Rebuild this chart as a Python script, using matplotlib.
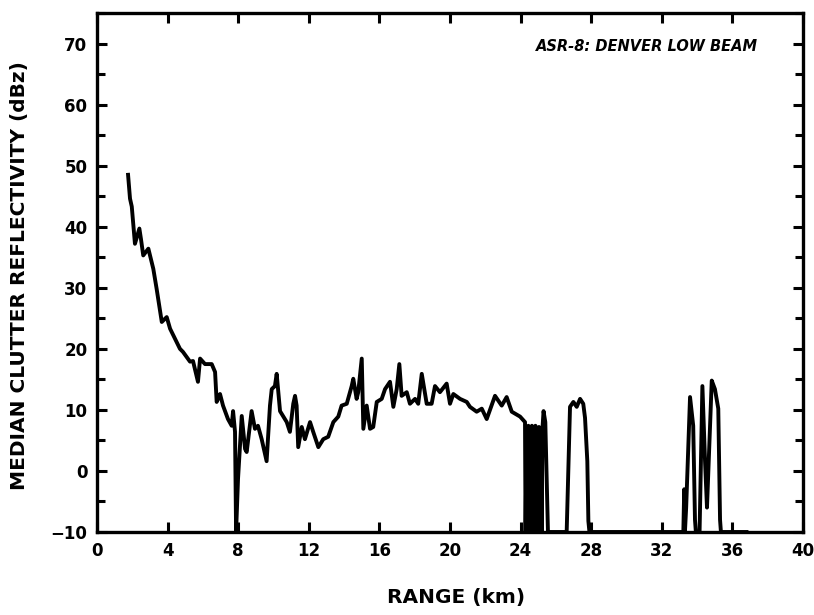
import matplotlib
matplotlib.use("Agg")
import matplotlib.pyplot as plt
from matplotlib.ticker import MultipleLocator

# median clutter reflectivity (km, dBz)
range_km = [
	1.76, 1.87, 1.97, 2.04, 2.15, 2.40, 2.49, 2.62, 2.91, 3.19,
	3.38, 3.67, 3.95, 4.14, 4.70, 4.87, 5.27, 5.44, 5.72, 5.84,
	6.12, 6.50, 6.69, 6.78, 6.97, 7.14, 7.42, 7.63, 7.71, 7.82,
	7.88, 7.99, 8.20, 8.39, 8.48, 8.76, 8.95, 9.12, 9.33, 9.61,
	9.80, 9.90, 10.08, 10.18, 10.37, 10.75, 10.93, 11.12, 11.22, 11.31,
	11.40, 11.60, 11.78, 12.07, 12.25, 12.54, 12.82, 13.10, 13.39, 13.67,
	13.86, 14.15, 14.43, 14.52, 14.71, 14.80, 15.00, 15.09, 15.28, 15.47,
	15.65, 15.85, 16.13, 16.32, 16.60, 16.79, 16.98, 17.13, 17.26, 17.55,
	17.73, 18.02, 18.20, 18.40, 18.68, 18.96, 19.15, 19.43, 19.81, 20.00,
	20.19, 20.57, 20.95, 21.13, 21.51, 21.80, 22.08, 22.55, 22.93, 23.21,
	23.50, 23.97, 24.25,
	# dense spikes 24-25.6 km
	24.28, 24.34, 24.39, 24.44, 24.49, 24.54, 24.59, 24.64, 24.69, 24.74,
	24.79, 24.84, 24.89, 24.94, 24.99, 25.04, 25.09, 25.14, 25.19, 25.24,
	25.30, 25.40, 25.55,
	# bump near 27 km
	26.61, 26.80, 26.99, 27.18, 27.37, 27.55, 27.65, 27.78, 27.84, 27.90,
	# spikes near 34 km
	33.22, 33.27, 33.31, 33.38, 33.60, 33.78, 33.88, 33.93, 34.14, 34.30,
	34.45, 34.56, 34.83, 35.01, 35.20, 35.30, 35.35, 36.80,
]
refl_dbz = [
	48.5, 44.6, 43.3, 41.0, 37.2, 39.7, 38.0, 35.3, 36.4, 33.1,
	29.8, 24.4, 25.2, 23.3, 20.0, 19.5, 17.9, 18.0, 14.6, 18.4,
	17.5, 17.5, 16.2, 11.3, 12.6, 10.7, 8.5, 7.4, 9.8, 6.4,
	-10.0, -1.3, 9.0, 3.6, 3.1, 9.8, 6.9, 7.4, 5.2, 1.6,
	10.7, 13.4, 13.9, 15.9, 9.8, 8.0, 6.4, 11.0, 12.3, 10.7,
	3.9, 7.2, 5.2, 8.0, 6.4, 3.9, 5.2, 5.6, 8.0, 8.9,
	10.7, 11.0, 13.9, 15.1, 11.8, 12.9, 18.4, 6.9, 10.7, 6.9,
	7.2, 11.3, 11.8, 13.4, 14.6, 10.5, 13.4, 17.5, 12.3, 12.9,
	11.0, 11.8, 11.0, 15.9, 11.0, 11.0, 13.9, 12.9, 14.3, 11.0,
	12.6, 11.8, 11.3, 10.5, 9.7, 10.2, 8.5, 12.3, 10.7, 12.1,
	9.7, 8.9, 8.0,
	-10.0, 6.5, -10.0, 7.4, -10.0, 6.0, -10.0, 7.4, -10.0, 5.5,
	-10.0, 7.4, -10.0, 6.8, -10.0, 7.2, -10.0, 6.0, -10.0, 7.0,
	9.8, 8.0, -10.0,
	-10.0, 10.5, 11.3, 10.5, 11.8, 11.0, 8.7, 1.6, -8.2, -10.0,
	-10.0, -3.0, -10.0, -6.0, 12.1, 7.4, -8.0, -10.0, -10.0, 13.9,
	1.6, -6.0, 14.8, 13.4, 10.2, -8.0, -10.0, -10.0,
]

x_ticks = list(range(0, 41, 4))
y_ticks = list(range(-10, 71, 10))

plt.rcParams['font.family'] = ['DejaVu Sans']
plt.rcParams['font.weight'] = 'bold'

fig = plt.figure(figsize=(8.14, 6.15), dpi=100)
ax = fig.add_axes([97 / 814, 1 - 532 / 615, (803 - 97) / 814, (532 - 13) / 615])

ax.plot(range_km, refl_dbz, color='black', lw=2.8, solid_joinstyle='round')

ax.set_xlim(0, 40)
ax.set_ylim(-10, 75)
ax.set_xticks(x_ticks)
ax.set_yticks(y_ticks)
ax.yaxis.set_minor_locator(MultipleLocator(5))
ax.tick_params(which='both', direction='in', top=True, right=True, width=2.2, colors='black')
ax.tick_params(which='major', length=7)
ax.tick_params(which='minor', length=6)
ax.tick_params(axis='x', labelsize=12, pad=7)
ax.tick_params(axis='y', labelsize=12, pad=7)
for lab in ax.get_xticklabels() + ax.get_yticklabels():
	lab.set_fontweight('bold')
for sp in ax.spines.values():
	sp.set_linewidth(2.4)

ax.text(0.936, 0.936, 'ASR-8: DENVER LOW BEAM', transform=ax.transAxes,
	ha='right', va='center', fontsize=10.5, fontweight='bold', style='italic')

fig.text(20 / 814, 1 - 276 / 615, 'MEDIAN CLUTTER REFLECTIVITY (dBz)',
	rotation=90, ha='center', va='center', fontsize=14.5, fontweight='bold')
fig.text(456 / 814, 1 - 597 / 615, 'RANGE (km)',
	ha='center', va='center', fontsize=14.5, fontweight='bold')

fig.savefig('out.png', dpi=100)
